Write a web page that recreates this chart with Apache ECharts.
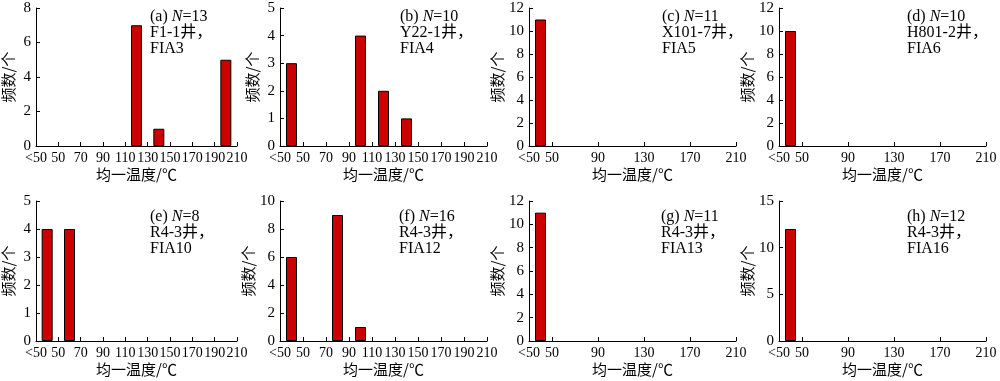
<!DOCTYPE html>
<html>
<head>
<meta charset="utf-8">
<script src="https://cdn.jsdelivr.net/npm/echarts@6/dist/echarts.min.js"></script>
<style>
html,body{margin:0;padding:0;background:#fff;}
#c{width:1000px;height:381px;}
</style>
</head>
<body>
<div id="c"></div>
<script>
// ---- data ----
const panelLetters = ['(a)', '(b)', '(c)', '(d)', '(e)', '(f)', '(g)', '(h)'];
const panelN = [13, 10, 11, 10, 8, 16, 11, 12];
const panelWells = ['F1-1井，', 'Y22-1井，', 'X101-7井，', 'H801-2井，', 'R4-3井，', 'R4-3井，', 'R4-3井，', 'R4-3井，'];
const panelFIA = ['FIA3', 'FIA4', 'FIA5', 'FIA6', 'FIA10', 'FIA12', 'FIA13', 'FIA16'];

// bin centres (℃; 40 = "<50" bin) and counts
const binsA = [120, 140, 200]; const countsA = [7, 1, 5];
const binsB = [40, 100, 120, 140]; const countsB = [3, 4, 2, 1];
const binsC = [40]; const countsC = [11];
const binsD = [40]; const countsD = [10];
const binsE = [40, 60]; const countsE = [4, 4];
const binsF = [40, 80, 100]; const countsF = [6, 9, 1];
const binsG = [40]; const countsG = [11];
const binsH = [40]; const countsH = [12];

const xTicksFine = [30, 50, 70, 90, 110, 130, 150, 170, 190, 210];
const xTicksCoarse = [30, 50, 90, 130, 170, 210];
const yMax = [8, 5, 12, 12, 5, 10, 12, 15];
const yInterval = [2, 1, 2, 2, 1, 2, 2, 5];

const xAxisName = '均一温度/℃';
const yAxisName = '频数/个';

// ---- layout ----
const allBins = [binsA, binsB, binsC, binsD, binsE, binsF, binsG, binsH];
const allCounts = [countsA, countsB, countsC, countsD, countsE, countsF, countsG, countsH];
const xTickSets = [xTicksFine, xTicksFine, xTicksCoarse, xTicksCoarse, xTicksFine, xTicksFine, xTicksCoarse, xTicksCoarse];
const gridPos = [
  {left: 30, top: 8, width: 207, height: 138},
  {left: 280, top: 8, width: 207, height: 138},
  {left: 529, top: 8, width: 207, height: 138},
  {left: 779, top: 8, width: 207, height: 138},
  {left: 31, top: 201, width: 206, height: 140},
  {left: 280, top: 201, width: 207, height: 140},
  {left: 529, top: 201, width: 207, height: 140},
  {left: 779, top: 201, width: 207, height: 140}
];
const titlePos = [
  {left: 150, top: 9}, {left: 400, top: 9}, {left: 662, top: 9}, {left: 907, top: 9},
  {left: 150, top: 209}, {left: 399, top: 209}, {left: 661, top: 209}, {left: 907, top: 209}
];

const serif = '"Liberation Serif", "Times New Roman", "Noto Sans CJK SC", serif';
const cjk = '"Noto Sans CJK SC", "Liberation Serif", sans-serif';

const grids = [], xAxes = [], yAxes = [], series = [], titles = [];
for (let i = 0; i < 8; i++) {
  grids.push(Object.assign({containLabel: false}, gridPos[i]));
  xAxes.push({
    type: 'value', gridIndex: i, min: 30, max: 210, interval: 20,
    splitLine: {show: false},
    axisLine: {show: true, lineStyle: {color: '#000', width: 1}},
    axisTick: {show: true, inside: true, length: 4, customValues: xTickSets[i], lineStyle: {color: '#000'}},
    axisLabel: {
      customValues: xTickSets[i], color: '#000', fontFamily: serif, fontSize: 14, margin: 5,
      formatter: v => (v === 30 ? '<50' : String(v))
    },
    name: xAxisName, nameLocation: 'middle', nameGap: 21,
    nameTextStyle: {color: '#000', fontFamily: cjk, fontSize: 15}
  });
  yAxes.push({
    type: 'value', gridIndex: i, min: 0, max: yMax[i], interval: yInterval[i],
    splitLine: {show: false},
    axisLine: {show: true, lineStyle: {color: '#000', width: 1}},
    axisTick: {show: true, inside: true, length: 4, lineStyle: {color: '#000'}},
    axisLabel: {color: '#000', fontFamily: serif, fontSize: 15, margin: 5},
    name: yAxisName, nameLocation: 'middle', nameGap: 20,
    nameTextStyle: {color: '#000', fontFamily: cjk, fontSize: 15}
  });
  series.push({
    type: 'bar', xAxisIndex: i, yAxisIndex: i, barWidth: 11,
    data: allBins[i].map((b, k) => [b, allCounts[i][k]]),
    itemStyle: {color: '#cc0000', borderColor: '#000', borderWidth: 1},
    emphasis: {disabled: true}, silent: true, animation: false
  });
  titles.push({
    left: titlePos[i].left, top: titlePos[i].top,
    text: '{n|' + panelLetters[i] + ' }{i|N}{n|=' + panelN[i] + '}\n{n|' + panelWells[i] + '}\n{n|' + panelFIA[i] + '}',
    textStyle: {
      fontSize: 16, fontFamily: serif, color: '#000', fontWeight: 'normal', lineHeight: 16,
      rich: {
        n: {fontSize: 16, fontFamily: serif, color: '#000', lineHeight: 16},
        i: {fontSize: 16, fontFamily: serif, color: '#000', fontStyle: 'italic', lineHeight: 16}
      }
    },
    padding: 0
  });
}

const chart = echarts.init(document.getElementById('c'), null, {renderer: 'canvas'});
chart.setOption({
  animation: false,
  backgroundColor: '#fff',
  title: titles,
  grid: grids,
  xAxis: xAxes,
  yAxis: yAxes,
  series: series
});
</script>
</body>
</html>
